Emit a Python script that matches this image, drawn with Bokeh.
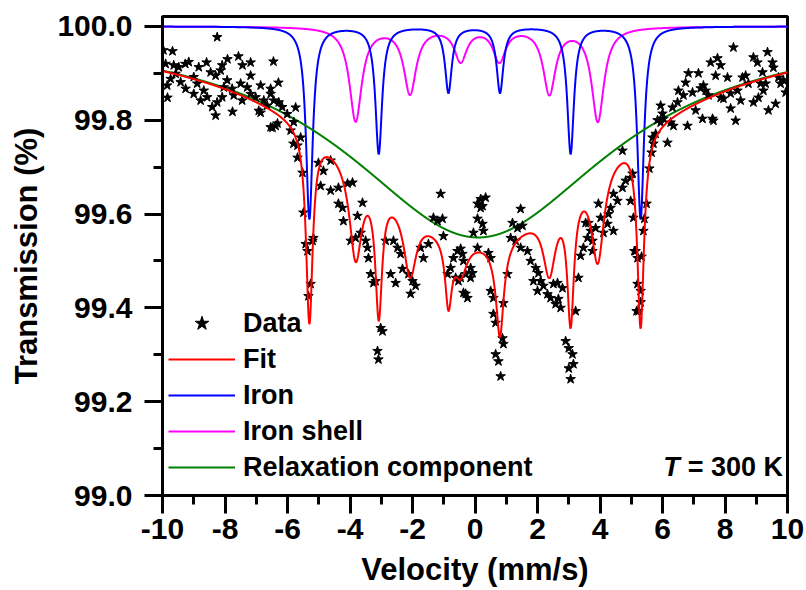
import numpy as np
from bokeh.plotting import figure
from bokeh.models import Legend, LegendItem, Label, FixedTicker, PrintfTickFormatter, ColumnDataSource
from bokeh.embed import file_html
from bokeh.resources import INLINE

# ---------------- data ----------------
# measured points (velocity mm/s, transmission %)
data_v = [
    -9.97, -9.68, -9.90, -9.64, -9.48, -9.27, -9.16, -9.58, -9.74, -9.42, -9.85, -9.84, -9.26, -9.00,
    -8.89, -8.68, -9.00, -8.78, -8.57, -8.41, -8.30, -8.25, -8.25, -8.09, -8.04, -8.30, -8.14, -8.59,
    -7.93, -7.92, -7.77, -7.76, -7.72, -7.57, -7.50, -7.44, -7.29, -7.45, -7.18, -7.18, -7.18, -7.02,
    -6.86, -6.86, -6.76, -6.65, -6.92, -6.54, -6.54, -6.54, -6.45, -6.44, -6.38, -6.32, -6.48, -6.29,
    -6.28, -6.17, -6.01, -5.90, -5.80, -5.74, -5.81, -5.68, -5.58, -8.84, -8.46, -8.09,
    -5.68, -5.52, -5.49, -5.42, -5.36, -5.17, -5.20, -5.26, -5.33, -5.01, -4.62, -4.85, -4.94, -4.62,
    -4.37, -4.08, -3.92, -4.37, -4.24, -4.21, -3.76, -3.60, -3.98, -3.82, -3.66, -3.50, -3.44, -3.41,
    -3.34, -3.25, -3.18, -2.96, -3.02, -3.12, -3.09, -2.86, -2.61, -2.48, -2.38, -2.70, -2.54, -2.32,
    -2.13, -2.00, -2.06, -1.90, -1.74, -1.65, -1.49, -1.10, -1.33, -1.20, -1.04, -1.01, -0.88, -0.78,
    -0.69, -0.62, -0.53, -0.56, -0.46, -0.40, -0.37, -0.37, -0.24, -0.30, -0.14, -0.14, -0.08, 0.18,
    0.34, 0.24, 0.08, 0.24, -0.05, 0.27, 0.08, 0.43, 0.50, 0.50, 0.59, 0.59, 0.66, 0.91,
    0.88, 0.91, 0.66, 0.75, 0.82, 1.46, 1.20, 1.36, 1.52, 1.14, 1.30, 1.46, 1.68, 1.04,
    1.78, 1.94, 2.03, 1.87, 2.10, 2.00, 2.19, 2.32, 2.42, 2.58, 2.51, 2.67, 2.74, 2.80,
    2.64, 2.90, 3.00, 3.12, 3.15, 3.00, 3.06, 3.22, 3.31, 3.38, 3.47, 3.54, 3.63, 3.60,
    3.70, 3.76, 3.76, 3.86, 3.95, 4.02, 4.11, 4.24, 4.27, 4.34, 4.43, 4.43, 4.56, 4.72,
    4.82, 4.98, 5.04, 4.72, 4.98, 5.07, 5.14, 5.20, 5.23, 5.20, 5.17, 5.30, 5.30, 5.10,
    5.33, 5.39, 5.42, 5.49, 5.58, 5.65, -0.46, -0.30, 0.18, 0.08,
    5.68, 5.71, 5.78, 6.16, 5.84, 5.94, 6.03, 6.26, 6.35, 6.00, 6.80, 5.94, 6.32, 6.48,
    6.51, 6.74, 6.83, 7.15, 6.67, 6.96, 7.22, 7.31, 7.06, 7.28, 7.60, 7.63, 8.34, 8.18,
    7.54, 7.76, 7.86, 8.27, 8.08, 7.70, 7.38, 7.47, 7.86, 7.95, 8.18, 8.40, 8.56, 8.66,
    8.75, 8.50, 8.91, 9.04, 9.36, 9.52, 9.55, 9.20, 9.23, 9.07, 8.91, 9.39, 9.62, 9.14,
    9.30, 9.71, 9.87, 9.94, 9.78,
]
data_t = [
    99.949, 99.947, 99.920, 99.917, 99.913, 99.920, 99.924, 99.899, 99.888, 99.881, 99.874, 99.848, 99.867, 99.892,
    99.878, 99.863, 99.856, 99.842, 99.849, 99.828, 99.810, 99.838, 99.977, 99.849, 99.870, 99.895, 99.906, 99.923,
    99.885, 99.930, 99.867, 99.818, 99.853, 99.936, 99.878, 99.917, 99.870, 99.842, 99.856, 99.923, 99.895, 99.849,
    99.874, 99.816, 99.842, 99.831, 99.820, 99.856, 99.867, 99.785, 99.925, 99.842, 99.788, 99.793, 99.784, 99.880,
    99.838, 99.828, 99.813, 99.778, 99.796, 99.827, 99.750, 99.746, 99.763, 99.913, 99.902, 99.917,
    99.720, 99.688, 99.603, 99.536, 99.521, 99.549, 99.543, 99.451, 99.425, 99.709, 99.714, 99.692, 99.660, 99.650,
    99.656, 99.665, 99.667, 99.622, 99.613, 99.585, 99.596, 99.624, 99.543, 99.549, 99.560, 99.543, 99.528, 99.506,
    99.472, 99.453, 99.457, 99.350, 99.357, 99.308, 99.290, 99.543, 99.543, 99.528, 99.515, 99.472, 99.453, 99.483,
    99.472, 99.457, 99.430, 99.447, 99.528, 99.506, 99.536, 99.643, 99.592, 99.585, 99.590, 99.553, 99.472, 99.485,
    99.506, 99.464, 99.457, 99.521, 99.526, 99.515, 99.500, 99.432, 99.421, 99.472, 99.485, 99.464, 99.474, 99.632,
    99.635, 99.617, 99.590, 99.579, 99.560, 99.564, 99.528, 99.517, 99.506, 99.436, 99.421, 99.387, 99.368, 99.410,
    99.335, 99.323, 99.301, 99.286, 99.254, 99.611, 99.581, 99.570, 99.575, 99.549, 99.543, 99.528, 99.521, 99.472,
    99.500, 99.485, 99.474, 99.457, 99.457, 99.436, 99.447, 99.429, 99.421, 99.408, 99.451, 99.419, 99.400, 99.442,
    99.453, 99.329, 99.314, 99.301, 99.280, 99.271, 99.248, 99.393, 99.464, 99.511, 99.528, 99.581, 99.581, 99.549,
    99.564, 99.543, 99.521, 99.570, 99.622, 99.592, 99.560, 99.579, 99.600, 99.613, 99.564, 99.643, 99.628, 99.656,
    99.671, 99.677, 99.686, 99.735, 99.628, 99.592, 99.521, 99.506, 99.393, 99.451, 99.393, 99.436, 99.412, 99.521,
    99.509, 99.564, 99.590, 99.622, 99.697, 99.731, 99.464, 99.430, 99.613, 99.622,
    99.763, 99.750, 99.771, 99.752, 99.800, 99.795, 99.803, 99.795, 99.788, 99.814, 99.788, 99.831, 99.827, 99.838,
    99.863, 99.880, 99.900, 99.900, 99.853, 99.859, 99.868, 99.874, 99.821, 99.803, 99.803, 99.799, 99.799, 99.825,
    99.923, 99.932, 99.917, 99.955, 99.891, 99.895, 99.863, 99.853, 99.848, 99.846, 99.857, 99.863, 99.891, 99.895,
    99.878, 99.842, 99.934, 99.923, 99.945, 99.923, 99.912, 99.902, 99.863, 99.848, 99.838, 99.821, 99.835, 99.878,
    99.878, 99.891, 99.885, 99.859, 99.878,
]

# fitted sub-spectra: Lorentzian line positions / depths / half widths
iron_pos = [-5.30, -3.08, -0.85, 0.80, 3.06, 5.30]
iron_depth = [0.41, 0.27, 0.14, 0.14, 0.27, 0.41]
iron_hwhm = [0.13, 0.13, 0.13, 0.13, 0.13, 0.13]

shell_pos = [-3.82, -2.08, -0.46, 0.78, 2.38, 3.93]
shell_depth = [0.20, 0.14, 0.07, 0.07, 0.14, 0.20]
shell_hwhm = [0.24, 0.24, 0.24, 0.24, 0.24, 0.24]

relax_pos = [0.10]
relax_depth = [0.45]
relax_hwhm = [5.2]

x_ticks = [-10, -8, -6, -4, -2, 0, 2, 4, 6, 8, 10]
y_ticks = [99.0, 99.2, 99.4, 99.6, 99.8, 100.0]

legend_labels = ["Data", "Fit", "Iron", "Iron shell", "Relaxation component"]

# ---------------- build curves ----------------
v = np.linspace(-10, 10, 4001)


def absorption(pos, depth, hwhm):
    out = np.zeros_like(v)
    for c, d, g in zip(pos, depth, hwhm):
        out += d / (1.0 + ((v - c) / g) ** 2)
    return out


a_iron = absorption(iron_pos, iron_depth, iron_hwhm)
a_shell = absorption(shell_pos, shell_depth, shell_hwhm)
a_relax = absorption(relax_pos, relax_depth, relax_hwhm)

src = ColumnDataSource(dict(
    v=v,
    iron=100.0 - a_iron,
    shell=100.0 - a_shell,
    relax=100.0 - a_relax,
    fit=100.0 - (a_iron + a_shell + a_relax),
))
pts = ColumnDataSource(dict(v=data_v, t=data_t))

FONT = "Liberation Sans"

p = figure(width=806, height=590, x_range=(-10, 10), y_range=(99.0, 100.021),
           output_backend="svg", toolbar_location=None,
           min_border_left=162, min_border_right=19, min_border_top=16, min_border_bottom=95)
p.xgrid.visible = False
p.ygrid.visible = False
p.outline_line_color = "black"
p.outline_line_width = 3
p.outline_line_alpha = 1.0
p.background_fill_color = "white"
p.border_fill_color = "white"

r_shell = p.line("v", "shell", source=src, line_color="#FF00FF", line_width=2)
r_iron = p.line("v", "iron", source=src, line_color="#0000FF", line_width=2)
r_relax = p.line("v", "relax", source=src, line_color="#008000", line_width=2)
r_data = p.scatter("v", "t", source=pts, marker="star", size=10, fill_color="black", line_color="black")
r_fit = p.line("v", "fit", source=src, line_color="#FF0000", line_width=2)

for ax in (p.xaxis[0], p.yaxis[0]):
    ax.axis_line_width = 3
    ax.major_tick_line_width = 3
    ax.minor_tick_line_width = 3
    ax.major_tick_out = 18
    ax.major_tick_in = 0
    ax.minor_tick_out = 9
    ax.minor_tick_in = 0
    ax.major_label_text_font = FONT
    ax.major_label_text_font_style = "bold"
    ax.major_label_text_font_size = "30px"
    ax.major_label_text_color = "black"
    ax.axis_label_text_font = FONT
    ax.axis_label_text_font_style = "bold"
    ax.axis_label_text_font_size = "31px"
    ax.axis_label_text_color = "black"

p.xaxis[0].ticker = FixedTicker(ticks=x_ticks, minor_ticks=list(range(-10, 11)))
p.yaxis[0].ticker = FixedTicker(ticks=y_ticks, minor_ticks=[99.0 + 0.1 * i for i in range(11)])
p.xaxis[0].formatter = PrintfTickFormatter(format="%d")
p.yaxis[0].formatter = PrintfTickFormatter(format="%.1f")
p.xaxis[0].axis_label = "Velocity (mm/s)"
p.yaxis[0].axis_label = "Transmission (%)"
p.xaxis[0].major_label_standoff = 5
p.yaxis[0].major_label_standoff = 12
p.xaxis[0].axis_label_standoff = 10
p.yaxis[0].axis_label_standoff = 10

legend = Legend(items=[
    LegendItem(label=legend_labels[0], renderers=[r_data]),
    LegendItem(label=legend_labels[1], renderers=[r_fit]),
    LegendItem(label=legend_labels[2], renderers=[r_iron]),
    LegendItem(label=legend_labels[3], renderers=[r_shell]),
    LegendItem(label=legend_labels[4], renderers=[r_relax]),
], location=(0, 4))
legend.label_text_font = FONT
legend.label_text_font_style = "bold"
legend.label_text_font_size = "27px"
legend.label_text_color = "black"
legend.glyph_width = 67
legend.glyph_height = 36
legend.label_height = 36
legend.label_standoff = 8
legend.spacing = 0
legend.padding = 6
legend.margin = 0
legend.background_fill_alpha = 0
legend.border_line_alpha = 0
p.add_layout(legend)

p.add_layout(Label(x=6.55, y=99.06, text="T", text_align="right", text_baseline="middle",
                   text_font=FONT, text_font_style="bold italic", text_font_size="27px", text_color="black"))
p.add_layout(Label(x=6.55, y=99.06, x_offset=8, text="= 300 K", text_align="left", text_baseline="middle",
                   text_font=FONT, text_font_style="bold", text_font_size="27px", text_color="black"))

open("out.html", "w").write(file_html(p, INLINE))
